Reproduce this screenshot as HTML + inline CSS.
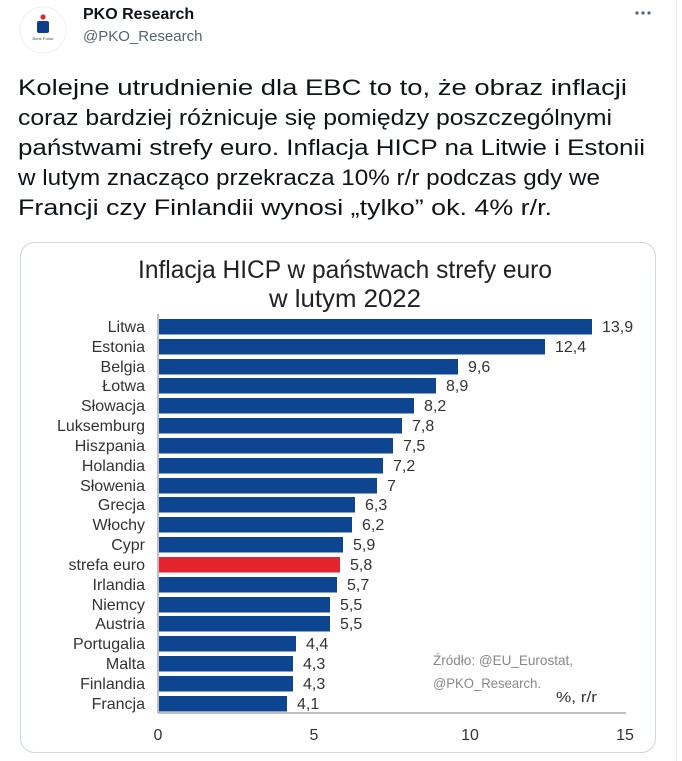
<!DOCTYPE html>
<html><head><meta charset="utf-8"><style>
html,body{margin:0;padding:0;background:#fff;}
svg{display:block;}
</style></head><body>
<svg width="682" height="761" viewBox="0 0 682 761" xmlns="http://www.w3.org/2000/svg" font-family="Liberation Sans, sans-serif">
<rect width="682" height="761" fill="#fff"/>
<line x1="676.5" y1="0" x2="676.5" y2="761" stroke="#e6ecf0"/>
<circle cx="43" cy="30" r="23" fill="#fff" stroke="#eef1f4"/>
<circle cx="43" cy="17" r="2.6" fill="#e3262f"/>
<rect x="37" y="21" width="12" height="12" rx="2" fill="#0d3e8a"/>
<text x="43" y="40" font-size="4" fill="#555" text-anchor="middle">Bank Polski</text>
<text x="83" y="19" font-size="16" font-weight="bold" fill="#0f1419">PKO Research</text>
<text x="83" y="41" font-size="15" fill="#536471">@PKO_Research</text>
<circle cx="637" cy="13" r="1.6" fill="#536471"/><circle cx="643" cy="13" r="1.6" fill="#536471"/><circle cx="649" cy="13" r="1.6" fill="#536471"/>
<g font-size="22" fill="#0f1419">
<text x="18" y="95" textLength="609" lengthAdjust="spacingAndGlyphs">Kolejne utrudnienie dla EBC to to, że obraz inflacji</text>
<text x="18" y="125" textLength="594" lengthAdjust="spacingAndGlyphs">coraz bardziej różnicuje się pomiędzy poszczególnymi</text>
<text x="18" y="155" textLength="627" lengthAdjust="spacingAndGlyphs">państwami strefy euro. Inflacja HICP na Litwie i Estonii</text>
<text x="18" y="185" textLength="582" lengthAdjust="spacingAndGlyphs">w lutym znacząco przekracza 10% r/r podczas gdy we</text>
<text x="18" y="215" textLength="534" lengthAdjust="spacingAndGlyphs">Francji czy Finlandii wynosi „tylko” ok. 4% r/r.</text>
</g>
<rect x="20.5" y="242.5" width="635" height="510" rx="14" fill="#fff" stroke="#cfd9de"/>
<g fill="#222" font-size="25" text-anchor="middle">
<text x="345" y="278" textLength="414" lengthAdjust="spacingAndGlyphs">Inflacja HICP w państwach strefy euro</text>
<text x="345" y="307" textLength="152" lengthAdjust="spacingAndGlyphs">w lutym 2022</text>
</g>
<line x1="158" y1="314" x2="158" y2="713" stroke="#aaa" stroke-width="1.5"/>
<line x1="158" y1="713" x2="626" y2="713" stroke="#999" stroke-width="1.2"/>
<g font-size="16" fill="#333" text-anchor="middle">
<text x="158" y="740">0</text><text x="314" y="740">5</text><text x="470" y="740">10</text><text x="625" y="740">15</text>
</g>
<g font-size="14" fill="#888">
<text x="433" y="665" textLength="140" lengthAdjust="spacingAndGlyphs">Źródło: @EU_Eurostat,</text>
<text x="433" y="688" textLength="108" lengthAdjust="spacingAndGlyphs">@PKO_Research.</text>
</g>
<text x="556" y="702" font-size="15" fill="#333" textLength="41" lengthAdjust="spacingAndGlyphs">%, r/r</text>
<g font-size="16" fill="#333">
<g text-anchor="end">
<text x="145" y="332">Litwa</text>
<text x="145" y="352">Estonia</text>
<text x="145" y="372">Belgia</text>
<text x="145" y="391">Łotwa</text>
<text x="145" y="411">Słowacja</text>
<text x="145" y="431">Luksemburg</text>
<text x="145" y="451">Hiszpania</text>
<text x="145" y="471">Holandia</text>
<text x="145" y="491">Słowenia</text>
<text x="145" y="510">Grecja</text>
<text x="145" y="530">Włochy</text>
<text x="145" y="550">Cypr</text>
<text x="145" y="570">strefa euro</text>
<text x="145" y="590">Irlandia</text>
<text x="145" y="610">Niemcy</text>
<text x="145" y="629">Austria</text>
<text x="145" y="649">Portugalia</text>
<text x="145" y="669">Malta</text>
<text x="145" y="689">Finlandia</text>
<text x="145" y="709">Francja</text>
</g>
<g fill="#0d4591">
<rect x="159" y="319" width="433" height="15.5"/>
<rect x="159" y="339" width="386" height="15.5"/>
<rect x="159" y="359" width="299" height="15.5"/>
<rect x="159" y="378" width="277" height="15.5"/>
<rect x="159" y="398" width="255" height="15.5"/>
<rect x="159" y="418" width="243" height="15.5"/>
<rect x="159" y="438" width="234" height="15.5"/>
<rect x="159" y="458" width="224" height="15.5"/>
<rect x="159" y="478" width="218" height="15.5"/>
<rect x="159" y="497" width="196" height="15.5"/>
<rect x="159" y="517" width="193" height="15.5"/>
<rect x="159" y="537" width="184" height="15.5"/>
<rect x="159" y="557" width="181" height="15.5" fill="#e3242f"/>
<rect x="159" y="577" width="178" height="15.5"/>
<rect x="159" y="597" width="171" height="15.5"/>
<rect x="159" y="616" width="171" height="15.5"/>
<rect x="159" y="636" width="137" height="15.5"/>
<rect x="159" y="656" width="134" height="15.5"/>
<rect x="159" y="676" width="134" height="15.5"/>
<rect x="159" y="696" width="128" height="15.5"/>
</g>
<text x="602" y="332">13,9</text>
<text x="555" y="352">12,4</text>
<text x="468" y="372">9,6</text>
<text x="446" y="391">8,9</text>
<text x="424" y="411">8,2</text>
<text x="412" y="431">7,8</text>
<text x="403" y="451">7,5</text>
<text x="393" y="471">7,2</text>
<text x="387" y="491">7</text>
<text x="365" y="510">6,3</text>
<text x="362" y="530">6,2</text>
<text x="353" y="550">5,9</text>
<text x="350" y="570">5,8</text>
<text x="347" y="590">5,7</text>
<text x="340" y="610">5,5</text>
<text x="340" y="629">5,5</text>
<text x="306" y="649">4,4</text>
<text x="303" y="669">4,3</text>
<text x="303" y="689">4,3</text>
<text x="297" y="709">4,1</text>
</g>
</svg>
</body></html>
